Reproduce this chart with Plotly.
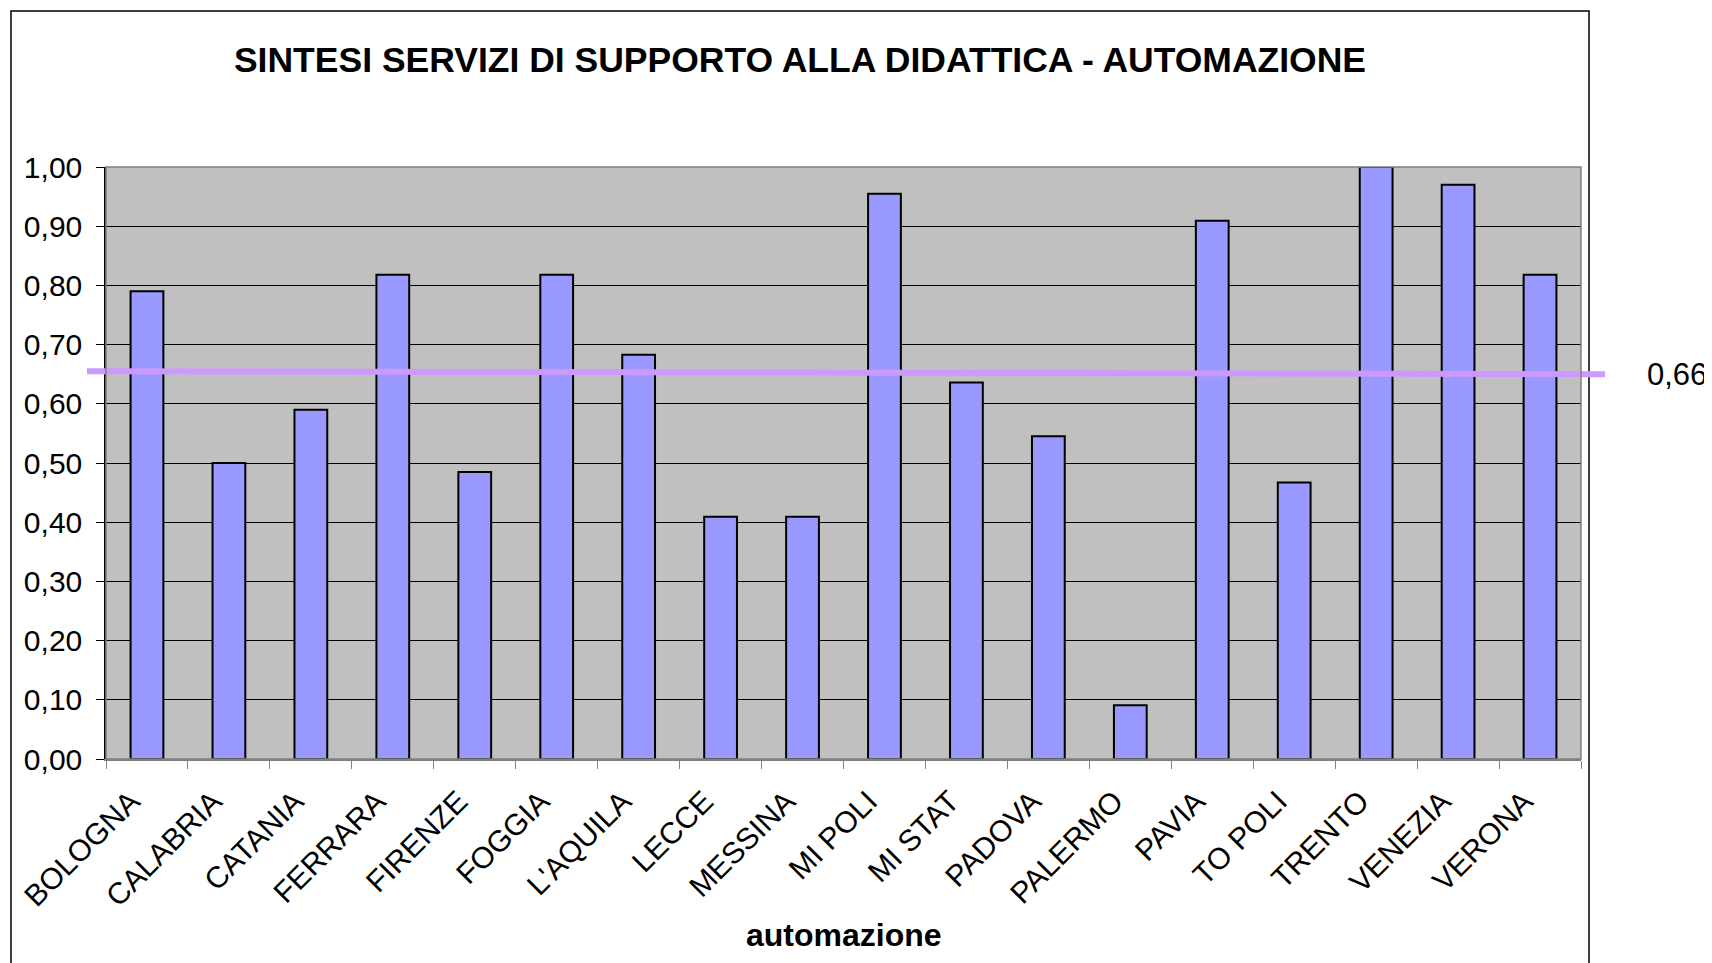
import plotly.graph_objects as go

categories = [
    "BOLOGNA", "CALABRIA", "CATANIA", "FERRARA", "FIRENZE", "FOGGIA",
    "L'AQUILA", "LECCE", "MESSINA", "MI POLI", "MI STAT", "PADOVA",
    "PALERMO", "PAVIA", "TO POLI", "TRENTO", "VENEZIA", "VERONA",
]
values = [
    0.79, 0.50, 0.59, 0.818, 0.485, 0.818,
    0.683, 0.409, 0.409, 0.955, 0.636, 0.545,
    0.091, 0.909, 0.467, 1.00, 0.970, 0.818,
]
average_label = "0,66"
average_line = [0.655, 0.650]  # drawn slightly off in the original
y_ticks = [round(i * 0.1, 1) for i in range(11)]

FONT = "Liberation Sans, Arial, sans-serif"
OFF = 8  # page body margin
W, H = 1712 - OFF, 963 - OFF
L, T = 106 - OFF, 167 - OFF
R, B = W - (1581 - OFF), H - (759 - OFF)
pw, ph = W - L - R, H - T - B


def px_x(px):
    # screen pixel -> paper x
    return (px - OFF - L) / pw


def px_y(py):
    return (H - B - (py - OFF)) / ph


fig = go.Figure(
    go.Bar(
        x=categories, y=values,
        marker=dict(color="#9999FF", line=dict(color="black", width=2)),
        hoverinfo="x+y",
    )
)

# average line, runs past the plot area on both sides
fig.add_shape(
    type="line", xref="paper", yref="paper", layer="above",
    x0=px_x(87), x1=px_x(1605), y0=average_line[0], y1=average_line[1],
    line=dict(color="#CC99FF", width=6),
)
fig.add_annotation(
    text=average_label, xref="paper", yref="paper",
    x=px_x(1645), y=px_y(374), xanchor="left", yanchor="middle",
    showarrow=False, font=dict(family=FONT, size=31, color="black"),
)
# outer chart border
fig.add_shape(
    type="rect", xref="paper", yref="paper", layer="below",
    x0=px_x(11), x1=px_x(1589), y0=px_y(1100), y1=px_y(11),
    line=dict(color="black", width=1.5), fillcolor="rgba(0,0,0,0)",
)
# plot area frame
fig.add_shape(
    type="rect", xref="paper", yref="paper", layer="above",
    x0=0, x1=1, y0=0, y1=1, line=dict(color="#808080", width=1.5),
)
fig.add_annotation(
    text="<b>automazione</b>", xref="paper", yref="paper",
    x=0.5, y=px_y(935), xanchor="center", yanchor="middle",
    showarrow=False, font=dict(family=FONT, size=32, color="black"),
)

fig.update_layout(
    width=W, height=H,
    margin=dict(l=L, r=R, t=T, b=B, autoexpand=False),
    paper_bgcolor="white", plot_bgcolor="#C0C0C0",
    separators=",.",
    showlegend=False,
    bargap=0.6,
    title=dict(
        text="<b>SINTESI SERVIZI DI SUPPORTO ALLA DIDATTICA - AUTOMAZIONE</b>",
        x=(800 - OFF) / W, y=1 - (60 - OFF) / H,
        xanchor="center", yanchor="middle",
        font=dict(family=FONT, size=35.5, color="black"),
    ),
    font=dict(family=FONT, color="black"),
)
fig.update_xaxes(
    type="category", tickangle=-45, tickson="boundaries",
    ticks="outside", ticklen=8, tickcolor="#808080",
    showline=True, linecolor="#808080", linewidth=1.5,
    showgrid=False, tickfont=dict(family=FONT, size=30),
    ticklabelstandoff=11, ticklabelshift=-16,
)
fig.update_yaxes(
    range=[0, 1], tickvals=y_ticks, tickformat=".2f",
    ticks="outside", ticklen=8, tickcolor="black",
    showline=True, linecolor="black", linewidth=1.5,
    showgrid=True, gridcolor="black", gridwidth=1, zeroline=False,
    tickfont=dict(family=FONT, size=30), ticklabelstandoff=8,
)

fig.write_html("out.html")
